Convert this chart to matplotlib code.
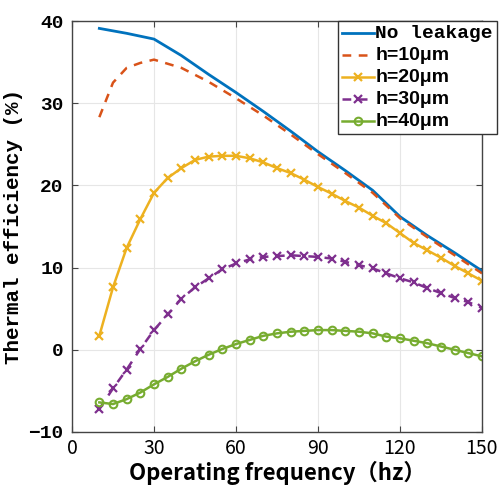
import numpy as np
import matplotlib
matplotlib.use("Agg")
import matplotlib.pyplot as plt

freq_line = [10, 20, 30, 40, 50, 60, 70, 80, 90, 100, 110, 120, 130, 140, 150]
no_leak = [39.1, 38.5, 37.8, 35.8, 33.5, 31.3, 29.0, 26.6, 24.1, 21.8, 19.4, 16.2, 13.9, 11.8, 9.6]
freq_h10 = [10, 15, 20, 25, 30, 40, 50, 60, 70, 80, 90, 100, 110, 120, 130, 140, 150]
h10 = [28.3, 32.5, 34.3, 34.9, 35.3, 34.3, 32.6, 30.6, 28.5, 26.2, 23.8, 21.5, 19.1, 16.0, 13.7, 11.5, 9.3]

freq = list(range(10, 151, 5))
h20 = [1.7, 7.6, 12.4, 15.9, 19.1, 20.9, 22.1, 23.1, 23.5, 23.6, 23.6, 23.3, 22.8, 22.1, 21.5,
       20.7, 19.8, 19.0, 18.1, 17.3, 16.3, 15.4, 14.2, 13.0, 12.1, 11.2, 10.2, 9.3, 8.4]
h30 = [-7.2, -4.7, -2.4, 0.1, 2.4, 4.3, 6.2, 7.6, 8.7, 9.8, 10.5, 11.0, 11.3, 11.4, 11.5,
       11.4, 11.3, 11.1, 10.7, 10.3, 9.9, 9.3, 8.7, 8.2, 7.5, 6.9, 6.3, 5.8, 5.1]
h40 = [-6.4, -6.6, -6.0, -5.2, -4.2, -3.3, -2.3, -1.4, -0.6, 0.1, 0.7, 1.2, 1.7, 2.0, 2.2,
       2.3, 2.4, 2.4, 2.3, 2.2, 2.0, 1.6, 1.4, 1.1, 0.8, 0.4, 0.0, -0.4, -0.8]

labels = ["No leakage", "h=10μm", "h=20μm", "h=30μm", "h=40μm"]
xticks = [0, 30, 60, 90, 120, 150]
yticks = [-10, 0, 10, 20, 30, 40]

fig = plt.figure(figsize=(5.02, 4.92), dpi=100)
ax = fig.add_axes([72/502, 60/492, 410/502, 411/492])

ax.plot(freq_line, no_leak, color="#0072BD", lw=2, label=labels[0])
ax.plot(freq_h10, h10, color="#D95319", lw=1.8, ls=(0, (3.5, 3)), label=labels[1])
ax.plot(freq, h20, color="#EDB120", lw=1.8, marker="x", ms=6, mew=1.6, label=labels[2])
ax.plot(freq, h30, color="#7E2F8E", lw=1.8, ls=(0, (3.5, 3)), marker="x", ms=6, mew=1.6, label=labels[3])
ax.plot(freq, h40, color="#77AC30", lw=1.8, marker="o", ms=5.5, mfc="none", mew=1.5, label=labels[4])

ax.set_xlim(0, 150)
ax.set_ylim(-10, 40)
ax.set_xticks(xticks)
ax.set_yticks(yticks)
ax.grid(True, color="#e6e6e6", lw=0.8)
ax.set_axisbelow(True)
ax.tick_params(direction="in", length=4, color="#444444", top=True, right=True)
for s in ax.spines.values():
    s.set_color("#444444")
    s.set_linewidth(1.0)

for t in ax.get_xticklabels():
    t.set_fontfamily(["Noto Sans CJK SC", "DejaVu Sans"])
    t.set_fontsize(14)
for t in ax.get_yticklabels():
    t.set_fontfamily("Liberation Mono")
    t.set_fontweight("bold")
    t.set_fontsize(14)
ax.tick_params(axis="x", pad=4)
ax.tick_params(axis="y", pad=6)

ax.set_xlabel("Operating frequency（hz）", fontsize=16, fontweight="bold",
              family=["Noto Sans CJK SC", "DejaVu Sans"], labelpad=2)
ax.set_ylabel("Thermal efficiency (%)", fontsize=15, fontweight="bold",
              family="Liberation Mono", labelpad=4)

leg = ax.legend(loc="upper right", bbox_to_anchor=(497/502, 471/492), bbox_transform=fig.transFigure,
                handlelength=2.3, handletextpad=0.1, borderpad=0.3, labelspacing=0.36,
                fancybox=False, framealpha=1, edgecolor="#333333", borderaxespad=0)
leg.get_frame().set_linewidth(1.0)
for i, t in enumerate(leg.get_texts()):
    if i == 0:
        t.set_fontfamily("Liberation Mono")
    else:
        t.set_fontfamily("Liberation Sans")
    t.set_fontweight("bold")
    t.set_fontsize(14)

fig.savefig("out.png", dpi=100)
